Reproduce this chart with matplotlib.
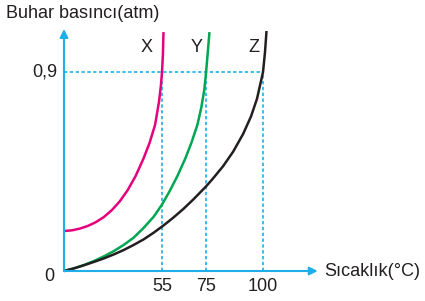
import matplotlib.pyplot as plt

plt.rcParams['font.family'] = ['Liberation Sans', 'DejaVu Sans']

# sıcaklık ekseni şematik (etiketler 55, 75, 100)
tick_pos = [49.2, 71.4, 100]
tick_labels = ['55', '75', '100']

# X, Y, Z eğrileri
x_t = [0, 4, 8, 12, 16, 20, 24, 28, 32, 36, 40, 43, 45.73,
       46.5, 47.8, 48.7, 49.25, 49.7, 50.0]
x_p = [0.181, 0.184, 0.192, 0.204, 0.221, 0.244, 0.275, 0.315, 0.366, 0.430,
       0.510, 0.580, 0.660, 0.700, 0.770, 0.840, 0.900, 0.980, 1.081]

y_t = [0, 5, 10, 15, 20, 25, 30, 35, 40, 45, 49.2, 53, 57, 61, 64, 67,
       69, 70.5, 71.4, 72.3, 73.1]
y_p = [0, 0.012, 0.027, 0.045, 0.066, 0.090, 0.118, 0.151, 0.195, 0.245,
       0.300, 0.360, 0.430, 0.510, 0.580, 0.660, 0.740, 0.820, 0.900, 0.995, 1.081]

z_t = [0, 5, 10, 15, 20, 25, 30, 35, 40, 45, 50, 55, 60, 65, 71.4, 75,
       80, 85, 90, 94, 97, 100, 101, 101.76]
z_p = [0, 0.012, 0.026, 0.041, 0.057, 0.075, 0.095, 0.118, 0.143, 0.173,
       0.206, 0.242, 0.281, 0.324, 0.383, 0.420, 0.475, 0.540, 0.620, 0.700,
       0.780, 0.900, 0.990, 1.086]

p_level = 0.9

fig = plt.figure(figsize=(4.25, 3.01), dpi=100)
ax = fig.add_axes([0, 0, 1, 1])
ax.set_xlim(-32.16, 181.4)
ax.set_ylim(-0.1357, 1.2262)
ax.axis('off')

axis_col = '#1eaee8'

# kesikli yardımcı çizgiler
ax.plot([0, 100], [p_level, p_level], color=axis_col, lw=1.2, ls=(0, (2, 1.5)))
for t in tick_pos:
    ax.plot([t, t], [0, p_level], color=axis_col, lw=1.2, ls=(0, (2, 1.5)))

for t, p, c in [(x_t, x_p, '#e6007e'), (y_t, y_p, '#00a651'), (z_t, z_p, '#231f20')]:
    ax.plot(t, p, color=c, lw=1.8, solid_capstyle='butt', solid_joinstyle='round')

# eksenler
ax.annotate('', xy=(127.5, 0), xytext=(0, 0),
            arrowprops=dict(arrowstyle='-|>', color=axis_col, lw=1.5, mutation_scale=12,
                            shrinkA=0, shrinkB=0))
ax.annotate('', xy=(0, 1.095), xytext=(0, 0),
            arrowprops=dict(arrowstyle='-|>', color=axis_col, lw=1.5, mutation_scale=12,
                            shrinkA=0, shrinkB=0))

fs = 13
tc = '#231f20'
ax.text(-29.2, 1.165, 'Buhar basıncı(atm)', fontsize=fs, va='center', ha='left', color=tc)
ax.text(131, 0, 'Sıcaklık(°C)', fontsize=fs, va='center', ha='left', color=tc)
ax.text(-3.5, p_level, '0,9', fontsize=fs, va='center', ha='right', color=tc)
ax.text(-5, -0.025, '0', fontsize=fs, va='center', ha='right', color=tc)
for t, lab in zip(tick_pos, tick_labels):
    ax.text(t, -0.07, lab, fontsize=fs, va='center', ha='center', color=tc)

ax.text(41.5, 1.01, 'X', fontsize=fs, va='center', ha='center', color=tc)
ax.text(66.5, 1.01, 'Y', fontsize=fs, va='center', ha='center', color=tc)
ax.text(95.5, 1.01, 'Z', fontsize=fs, va='center', ha='center', color=tc)

plt.savefig('out.png')
